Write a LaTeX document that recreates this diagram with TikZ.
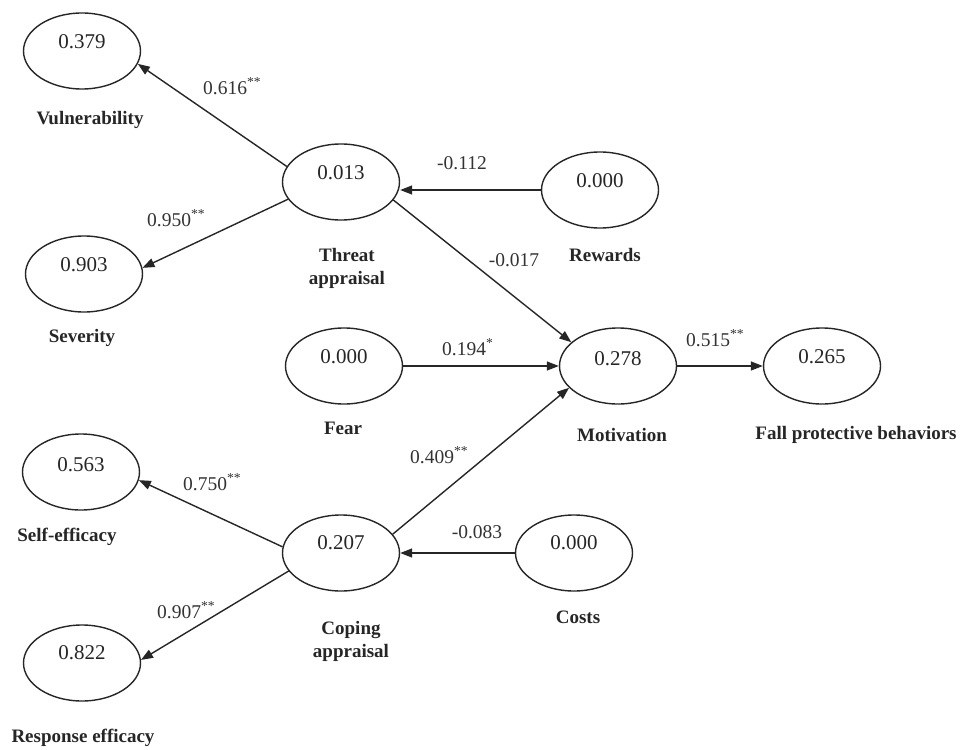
\documentclass[tikz,border=0pt]{standalone}
\usepackage{fontspec}
\setmainfont{Liberation Serif}
\usetikzlibrary{arrows.meta,shapes.geometric}
\begin{document}
\begin{tikzpicture}[x=1pt,y=-1pt,
  ell/.style={draw=black!85, line width=1.4pt, ellipse, minimum width=117pt, minimum height=76pt, inner sep=0pt},
  num/.style={font=\fontsize{21}{24}\selectfont, text=black!85, inner sep=0pt},
  lab/.style={font=\fontsize{19}{23}\selectfont\bfseries, text=black!85, align=center, inner sep=0pt},
  coef/.style={font=\fontsize{19.5}{22}\selectfont, text=black!80, inner sep=0pt},
  arr/.style={draw=black!85, line width=1.4pt, -{Triangle[length=12pt,width=9pt]}}
]
\fill[white] (0,0) rectangle (960,749);
\useasboundingbox (0,0) rectangle (960,749);

% ellipses
\node[ell] (vul) at (82,51) {};
\node[ell] (thr) at (341,182) {};
\node[ell] (sev) at (84,274) {};
\node[ell] (rew) at (600,190) {};
\node[ell] (fear) at (344,366) {};
\node[ell] (mot) at (618,366) {};
\node[ell] (fall) at (822,366) {};
\node[ell] (self) at (81,472) {};
\node[ell] (cop) at (341,553) {};
\node[ell] (cost) at (574,553) {};
\node[ell] (resp) at (82,663) {};

% values
\node[num] (nvul) at ([yshift=9pt]vul.center) {0.379};
\node[num] (nthr) at ([yshift=9pt]thr.center) {0.013};
\node[num] (nsev) at ([yshift=9pt]sev.center) {0.903};
\node[num] (nrew) at ([yshift=9pt]rew.center) {0.000};
\node[num] (nfear) at ([yshift=9pt]fear.center) {0.000};
\node[num] (nmot) at ([yshift=7pt]mot.center) {0.278};
\node[num] (nfall) at ([yshift=9pt]fall.center) {0.265};
\node[num] (nself) at ([yshift=7pt]self.center) {0.563};
\node[num] (ncop) at ([yshift=10pt]cop.center) {0.207};
\node[num] (ncost) at ([yshift=10pt]cost.center) {0.000};
\node[num] (nresp) at ([yshift=10pt]resp.center) {0.822};

% labels
\node[lab] (lvul) at (90,120) {Vulnerability};
\node[lab] (lthr) at (347,268) {Threat\\appraisal};
\node[lab] (lsev) at (82,338) {Severity};
\node[lab] (lrew) at (605,255) {Rewards};
\node[lab] (lfear) at (343,428) {Fear};
\node[lab] (lmot) at (622,435) {Motivation};
\node[lab] (lfall) at (856,435) {Fall protective behaviors};
\node[lab] (lself) at (67,537) {Self-efficacy};
\node[lab] (lcop) at (351,641) {Coping\\appraisal};
\node[lab] (lcost) at (578,617) {Costs};
\node[lab] (lresp) at (83,738) {Response efficacy};

% connectors
\draw[arr] (thr.164) -- (vul.-13);
\draw[arr] (thr.198) -- (sev.6);
\draw[arr] (rew.west) -- (thr.east |- rew.west);
\draw[arr] (thr.-19) -- (mot.153);
\draw[arr] (fear.east) -- (mot.west);
\draw[arr] (mot.east) -- (fall.west);
\draw[arr] (cop.20) -- (mot.204);
\draw[arr] (cop.174) -- (self.-8);
\draw[arr] (cop.199) -- (resp.3);
\draw[arr] (cost.west) -- (cop.east);

% coefficients
\node[coef, anchor=west] (c1) at (203,86) {0.616\textsuperscript{**}};
\node[coef, anchor=west] (c2) at (147,218) {0.950\textsuperscript{**}};
\node[coef] (c3) at (462,163) {-0.112};
\node[coef] (c4) at (514,260) {-0.017};
\node[coef, anchor=west] (c5) at (442,347) {0.194\textsuperscript{*}};
\node[coef, anchor=west] (c6) at (686,338) {0.515\textsuperscript{**}};
\node[coef, anchor=west] (c7) at (410,455) {0.409\textsuperscript{**}};
\node[coef, anchor=west] (c8) at (183,482) {0.750\textsuperscript{**}};
\node[coef, anchor=west] (c9) at (157,610) {0.907\textsuperscript{**}};
\node[coef] (c10) at (477,532) {-0.083};
\end{tikzpicture}
\end{document}
